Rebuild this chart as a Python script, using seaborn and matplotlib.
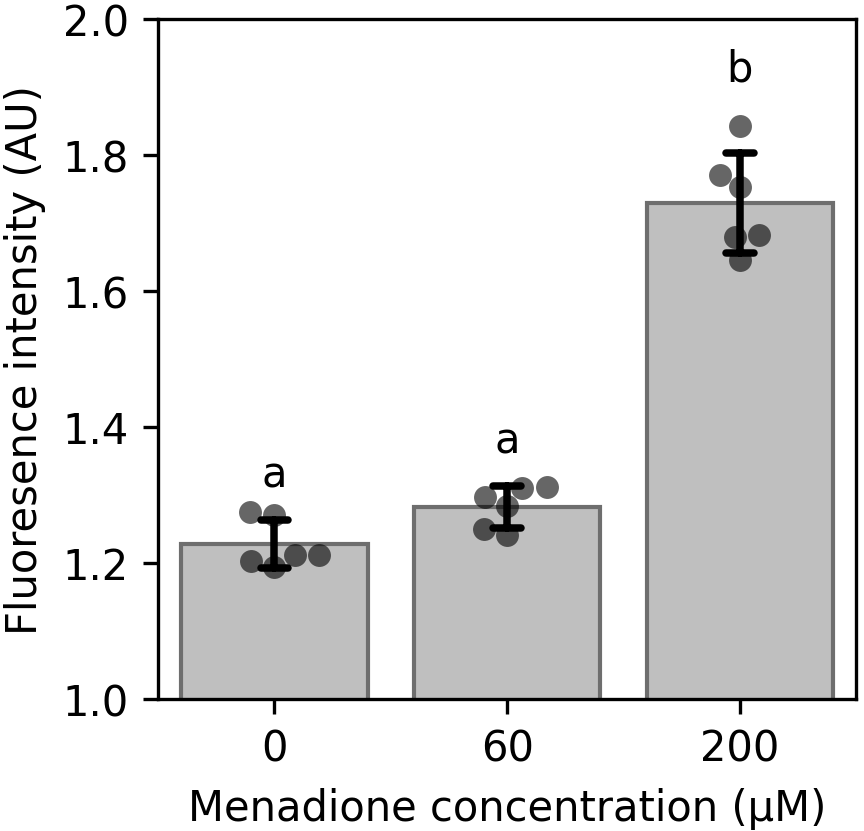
import numpy as np
import pandas as pd
import seaborn as sns
from matplotlib import pyplot as plt

concentrations = ['0', '60', '200']
vals_0 = [1.274, 1.271, 1.203, 1.194, 1.212, 1.212]
vals_60 = [1.297, 1.284, 1.310, 1.312, 1.249, 1.241]
vals_200 = [1.843, 1.771, 1.753, 1.679, 1.682, 1.646]
letters = ['a', 'a', 'b']
letter_y = [1.312, 1.362, 1.909]

df = pd.DataFrame({
    'conc': np.repeat(concentrations, 6),
    'value': vals_0 + vals_60 + vals_200,
})

sns.set_style('ticks', {'axes.edgecolor': 'black', 'text.color': 'black',
                        'axes.labelcolor': 'black', 'xtick.color': 'black',
                        'ytick.color': 'black'})
plt.rcParams['font.family'] = ['DejaVu Sans']
plt.rcParams['font.size'] = 10

fig, ax = plt.subplots(figsize=(2.88, 2.7733), dpi=300)
fig.subplots_adjust(left=0.183, right=0.991, top=0.976, bottom=0.159)

sns.barplot(data=df, x='conc', y='value', order=concentrations, color='#bfbfbf',
            edgecolor='#6e6e6e', linewidth=1.0, errorbar='sd', capsize=0.12,
            err_kws={'color': 'black', 'linewidth': 1.8, 'zorder': 3}, saturation=1, ax=ax)
sns.swarmplot(data=df, x='conc', y='value', order=concentrations, color='black',
              alpha=0.6, size=5.5, ax=ax)

for i, (lab, yy) in enumerate(zip(letters, letter_y)):
    ax.text(i, yy, lab, ha='center', va='baseline', fontsize=10)

ax.set_ylim(1.0, 2.0)
ax.set_xlim(-0.5, 2.5)
ax.set_yticks([1.0, 1.2, 1.4, 1.6, 1.8, 2.0])
ax.tick_params(labelsize=10)
ax.set_xlabel('Menadione concentration (μM)', fontsize=10)
ax.set_ylabel('Fluoresence intensity (AU)', fontsize=10)

plt.savefig('out.png', dpi=300)
